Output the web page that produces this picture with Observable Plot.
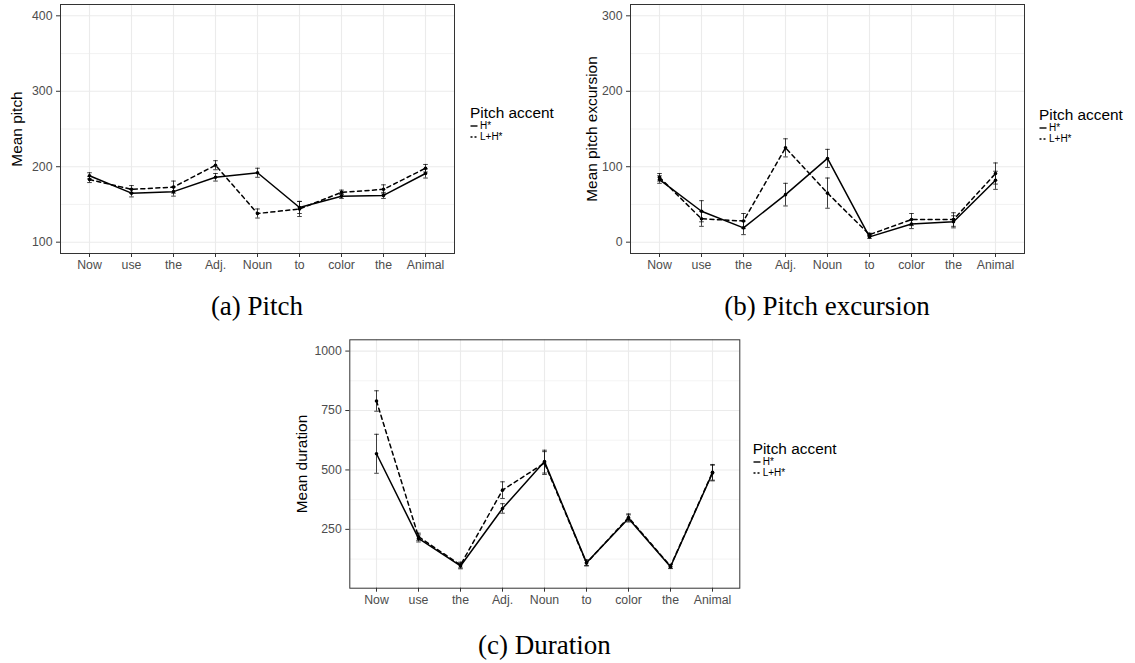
<!DOCTYPE html>
<html>
<head>
<meta charset="utf-8">
<script src="https://cdn.jsdelivr.net/npm/d3@7"></script>
<script src="https://cdn.jsdelivr.net/npm/@observablehq/plot@0.6"></script>
<style>
  html, body { margin: 0; padding: 0; background: #fff; }
  #page { position: relative; width: 1135px; height: 663px; overflow: hidden; font-family: "Liberation Sans", Arial, sans-serif; }
  .panel { position: absolute; }
  .legend { position: absolute; color: #000; }
  .legend .lt { font-size: 15.4px; line-height: 15.4px; white-space: nowrap; }
  .legend .row { display: flex; align-items: center; height: 11px; font-size: 10px; line-height: 11px; white-space: nowrap; }
  .legend .row:first-of-type { margin-top: 3px; }
  .legend .row svg { margin-right: 1px; }
  .caption { position: absolute; width: 400px; text-align: center; font-family: "Liberation Serif", "Times New Roman", serif; font-size: 27px; line-height: 27px; color: #000; white-space: nowrap; }
</style>
</head>
<body>
<div id="page"></div>
<script>
// Words of the carrier sentence (x positions)
const words = ["Now", "use", "the", "Adj.", "Noun", "to", "color", "the", "Animal"];
const accents = ["H*", "L+H*"];

// (a) Mean pitch, with standard-error half widths
const pitchH    = [188, 165, 167, 186, 192, 146, 161, 162, 191];
const pitchHErr = [4, 5, 6, 5, 6, 8, 3, 4, 6];
const pitchL    = [183, 170, 173, 202, 138, 144, 166, 170, 198];
const pitchLErr = [4, 5, 8, 6, 6, 10, 3, 6, 5];

// (b) Mean pitch excursion
const excH    = [83, 41, 19, 63, 111, 7, 24, 27, 82];
const excHErr = [5, 14, 9, 15, 12, 2, 6, 8, 12];
const excL    = [86, 31, 28, 125, 65, 10, 30, 30, 91];
const excLErr = [5, 10, 10, 12, 20, 2, 8, 9, 14];

// (c) Mean duration
const durH    = [568, 212, 96, 338, 535, 110, 296, 93, 487];
const durHErr = [82, 15, 12, 20, 48, 12, 15, 8, 33];
const durL    = [790, 219, 100, 415, 529, 108, 300, 95, 490];
const durLErr = [43, 15, 12, 35, 48, 12, 15, 8, 33];

// y axis ticks per panel
const pitchTicks = [100, 200, 300, 400];
const pitchMinor = [150, 250, 350];
const excTicks = [0, 100, 200, 300];
const excMinor = [50, 150, 250];
const durTicks = [250, 500, 750, 1000];
const durMinor = [125, 375, 625, 875];

function rowsFor(hMeans, hErr, lMeans, lErr) {
  const rows = [];
  words.forEach((w, i) => {
    rows.push({i, accent: accents[0], mean: hMeans[i], lo: hMeans[i] - hErr[i], hi: hMeans[i] + hErr[i]});
    rows.push({i, accent: accents[1], mean: lMeans[i], lo: lMeans[i] - lErr[i], hi: lMeans[i] + lErr[i]});
  });
  return rows;
}

// horizontal cap used at both ends of each error bar
const capSymbol = {
  draw(ctx, size) {
    const w = Math.sqrt(size / Math.PI);
    ctx.moveTo(-w, 0);
    ctx.lineTo(w, 0);
  }
};

function panel({rows, yDomain, major, minor, label, labelDx, width, height, margins}) {
  const grid = "#ebebeb";
  return Plot.plot({
    width, height,
    marginLeft: margins[0], marginRight: margins[1], marginTop: margins[2], marginBottom: margins[3],
    style: {fontFamily: "'Liberation Sans', Arial, sans-serif", fontSize: "12.3px", background: "transparent", overflow: "visible"},
    x: {type: "point", domain: d3.range(words.length), padding: 0.6},
    y: {domain: yDomain},
    marks: [
      Plot.gridY(minor, {stroke: grid, strokeOpacity: 1, strokeWidth: 0.6}),
      Plot.gridY(major, {stroke: grid, strokeOpacity: 1, strokeWidth: 1.1}),
      Plot.gridX(d3.range(words.length), {stroke: grid, strokeOpacity: 1, strokeWidth: 1.1}),
      Plot.ruleX(rows, {x: "i", y1: "lo", y2: "hi", stroke: "#111", strokeWidth: 0.8}),
      Plot.dot(rows, {x: "i", y: "lo", symbol: capSymbol, r: 2.3, stroke: "#111", fill: "none", strokeWidth: 0.8}),
      Plot.dot(rows, {x: "i", y: "hi", symbol: capSymbol, r: 2.3, stroke: "#111", fill: "none", strokeWidth: 0.8}),
      Plot.line(rows.filter(d => d.accent === accents[0]), {x: "i", y: "mean", stroke: "#000", strokeWidth: 1.5}),
      Plot.line(rows.filter(d => d.accent === accents[1]), {x: "i", y: "mean", stroke: "#000", strokeWidth: 1.5, strokeDasharray: "4,3.5"}),
      Plot.dot(rows, {x: "i", y: "mean", r: 1.8, fill: "#000", stroke: "none"}),
      Plot.axisX({ticks: d3.range(words.length), tickFormat: i => words[i], tickSize: 4, tickPadding: 3, stroke: "#333", fill: "#4d4d4d", label: null}),
      Plot.axisY({ticks: major, tickFormat: d => String(d), tickSize: 4, tickPadding: 4, stroke: "#333", fill: "#4d4d4d", label: null}),
      Plot.frame({stroke: "#333", strokeWidth: 1}),
      Plot.text([label], {text: d => d, frameAnchor: "left", textAnchor: "middle", dx: -labelDx, rotate: -90, fontSize: 15.4, fill: "#000"})
    ]
  });
}

const page = document.getElementById("page");

function place(el, left, top) {
  const wrap = document.createElement("div");
  wrap.className = "panel";
  wrap.style.left = left + "px";
  wrap.style.top = top + "px";
  wrap.appendChild(el);
  page.appendChild(wrap);
}

place(panel({
  rows: rowsFor(pitchH, pitchHErr, pitchL, pitchLErr),
  yDomain: [85, 415], major: pitchTicks, minor: pitchMinor,
  label: "Mean pitch", labelDx: 43,
  width: 460, height: 280, margins: [60, 6, 4, 27]
}), 0, 0);

place(panel({
  rows: rowsFor(excH, excHErr, excL, excLErr),
  yDomain: [-15, 315], major: excTicks, minor: excMinor,
  label: "Mean pitch excursion", labelDx: 38,
  width: 460, height: 280, margins: [60, 6, 4, 27]
}), 570, 0);

place(panel({
  rows: rowsFor(durH, durHErr, durL, durLErr),
  yDomain: [2.5, 1047.5], major: durTicks, minor: durMinor,
  label: "Mean duration", labelDx: 47.5,
  width: 455, height: 280, margins: [59.3, 5.7, 4.3, 27.3]
}), 290, 335);

// legends for the line type of each accent
function legend(left, top) {
  const div = document.createElement("div");
  div.className = "legend";
  div.style.left = left + "px";
  div.style.top = top + "px";
  const keys = [
    `<svg width="9" height="6"><line x1="0.5" x2="7.5" y1="3" y2="3" stroke="#000" stroke-width="1.4"/></svg>`,
    `<svg width="9" height="6"><line x1="0.5" x2="8" y1="3" y2="3" stroke="#000" stroke-width="1.4" stroke-dasharray="2,2"/></svg>`
  ];
  div.innerHTML = `<div class="lt">Pitch accent</div>` +
    accents.map((a, k) => `<div class="row">${keys[k]}<span>${a}</span></div>`).join("");
  page.appendChild(div);
}
legend(470, 105);
legend(1039, 107);
legend(752.7, 441);

// sub-figure captions
function caption(text, center, top) {
  const div = document.createElement("div");
  div.className = "caption";
  div.style.left = (center - 200) + "px";
  div.style.top = top + "px";
  div.textContent = text;
  page.appendChild(div);
}
caption("(a) Pitch", 257, 293);
caption("(b) Pitch excursion", 827, 293);
caption("(c) Duration", 544.3, 632.4);
</script>
</body>
</html>
